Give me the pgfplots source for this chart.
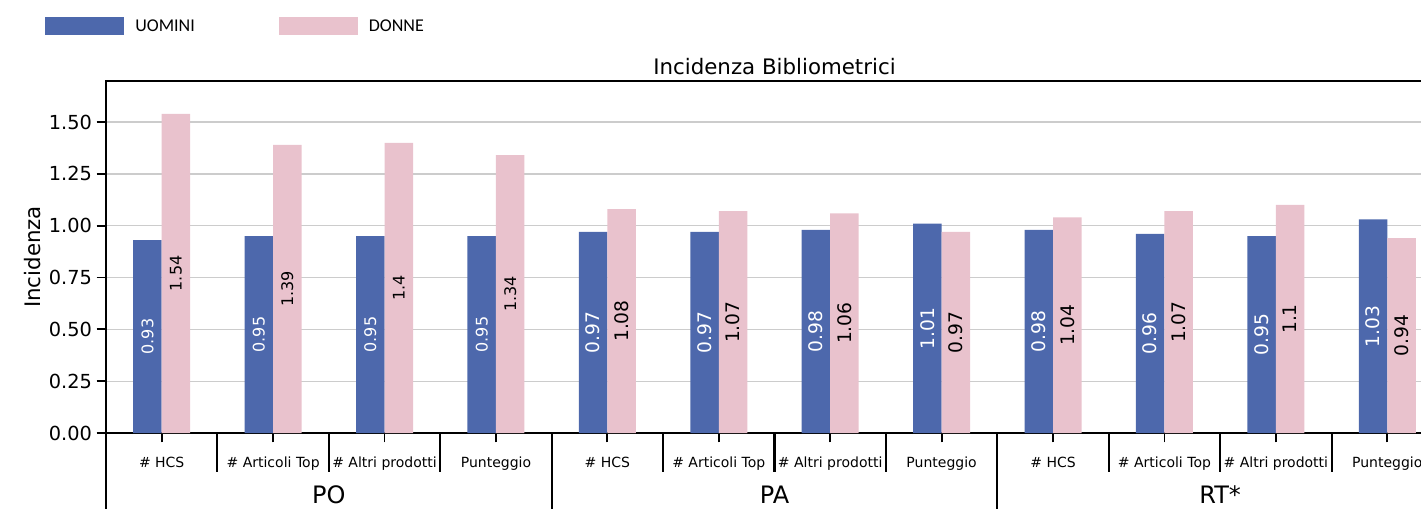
\documentclass[border=0pt]{standalone}
\usepackage{pgfplots}
\pgfplotsset{compat=1.18}
\usepackage{pgfplotstable}
\usepackage{fontspec}
\setmainfont{DejaVu Sans}
\newfontfamily\carlito{Carlito}

\definecolor{uomini}{HTML}{4D68AC}
\definecolor{donne}{HTML}{E9C2CD}

\pgfplotsset{/pgf/number format/assume math mode=true,
  barlabel/.style={ybar, bar width=21.4pt, bar shift=0pt, draw=none, fill=none, forget plot,
    nodes near coords,
    every node near coord/.append style={xshift=#1, anchor=center, rotate=90, inner sep=0pt}}}

% x: 0-3 PO, 4-7 PA, 8-11 RT*
\pgfplotstableread{
x u d
0 0.93 1.54
1 0.95 1.39
2 0.95 1.40
3 0.95 1.34
4 0.97 1.08
5 0.97 1.07
6 0.98 1.06
7 1.01 0.97
8 0.98 1.04
9 0.96 1.07
10 0.95 1.10
11 1.03 0.94
}\incidenza

\begin{document}
\begin{tikzpicture}
\begin{axis}[
  at={(0,0)}, anchor=south west,
  scale only axis,
  width=1002.75pt, height=264pt,
  xmin=-0.5, xmax=11.5, ymin=0, ymax=1.698,
  clip=false,
  axis line style={line width=1.4pt},
  tick style={line width=1.4pt, black},
  major tick length=7pt,
  tick align=outside,
  xtick pos=left, ytick pos=left,
  xtick={0,...,11},
  xticklabels={\# HCS,\# Articoli Top,\# Altri prodotti,Punteggio,
               \# HCS,\# Articoli Top,\# Altri prodotti,Punteggio,
               \# HCS,\# Articoli Top,\# Altri prodotti,Punteggio},
  xticklabel style={font=\fontsize{10.5}{12}\selectfont, anchor=base, yshift=-18.75pt},
  ytick={0,0.25,0.5,0.75,1,1.25,1.5},
  yticklabel style={font=\fontsize{14.5}{17}\selectfont,
    /pgf/number format/.cd, fixed, fixed zerofill, precision=2},
  ymajorgrids,
  major grid style={line width=1pt, color=black!20},
  title={Incidenza Bibliometrici},
  title style={font=\fontsize{16}{19}\selectfont, at={(axis description cs:0.5,1)},
    anchor=south, inner sep=0pt, yshift=-1.5pt},
  ylabel={Incidenza},
  every axis y label/.style={at={(axis description cs:-0.0553,0.5)}, rotate=90,
    anchor=center, font=\fontsize{16}{19}\selectfont},
  legend style={draw=none, fill=none, inner sep=0pt,
    at={(axis description cs:-0.0456,1.1818)}, anchor=north west,
    column sep=8.25pt,
    /tikz/every even column/.append style={column sep=63pt},
    font=\carlito\fontsize{13.5}{16}\selectfont, nodes={inner sep=0pt}},
  legend columns=2,
  legend cell align=left,
]
\addplot[ybar, bar width=21.4pt, bar shift=-10.7pt, fill=uomini, draw=none,
  legend image code/.code={\fill[uomini] (0pt,-6.75pt) rectangle (59.25pt,6.75pt);}]
  table[x=x, y=u]{\incidenza};
\addlegendentry{UOMINI}
\addplot[ybar, bar width=21.4pt, bar shift=10.7pt, fill=donne, draw=none,
  legend image code/.code={\fill[donne] (0pt,-6.75pt) rectangle (59.25pt,6.75pt);}]
  table[x=x, y=d]{\incidenza};
\addlegendentry{DONNE}

% value labels, centred in the bars (smaller for PO)
\addplot[barlabel=-10.7pt, restrict x to domain=0:3, point meta=\thisrow{u},
  every node near coord/.append style={text=white, font=\fontsize{12}{14}\selectfont}]
  table[x=x, y expr=\thisrow{u}/2]{\incidenza};
\addplot[barlabel=-10.7pt, restrict x to domain=4:11, point meta=\thisrow{u},
  every node near coord/.append style={text=white, font=\fontsize{14}{17}\selectfont}]
  table[x=x, y expr=\thisrow{u}/2]{\incidenza};
\addplot[barlabel=10.7pt, restrict x to domain=0:3, point meta=\thisrow{d},
  every node near coord/.append style={text=black, font=\fontsize{12}{14}\selectfont}]
  table[x=x, y expr=\thisrow{d}/2]{\incidenza};
\addplot[barlabel=10.7pt, restrict x to domain=4:11, point meta=\thisrow{d},
  every node near coord/.append style={text=black, font=\fontsize{14}{17}\selectfont}]
  table[x=x, y expr=\thisrow{d}/2]{\incidenza};

% separators between categories and groups
\pgfplotsinvokeforeach{0.5,1.5,2.5,4.5,5.5,6.5,8.5,9.5,10.5}{
  \draw[line width=1.6pt] (axis cs:#1,0) -- ++(0pt,-29.25pt);
}
\pgfplotsinvokeforeach{-0.5,3.5,7.5}{
  \draw[line width=1.6pt] (axis cs:#1,0) -- ++(0pt,-57pt);
}
\node[font=\fontsize{18}{21}\selectfont, inner sep=0pt, yshift=-46.5pt] at (axis cs:1.5,0) {PO};
\node[font=\fontsize{18}{21}\selectfont, inner sep=0pt, yshift=-46.5pt] at (axis cs:5.5,0) {PA};
\node[font=\fontsize{18}{21}\selectfont, inner sep=0pt, yshift=-46.5pt] at (axis cs:9.5,0) {RT*};
\end{axis}
\pgfresetboundingbox
\useasboundingbox (-79.5pt,-56.25pt) rectangle (986.25pt,324.75pt);
\end{tikzpicture}
\end{document}
